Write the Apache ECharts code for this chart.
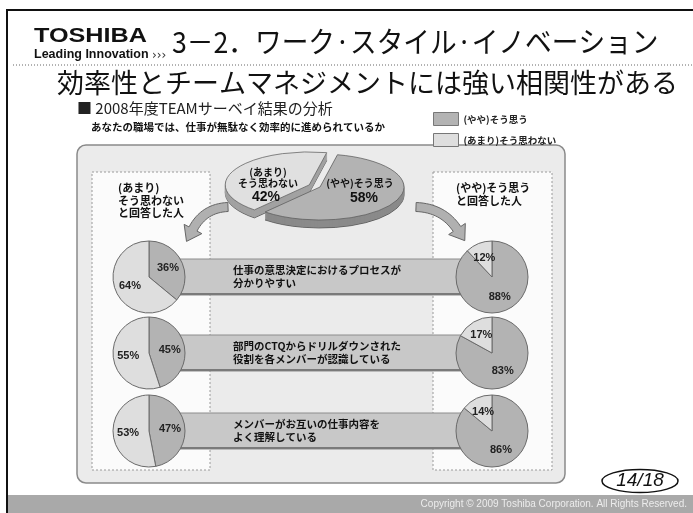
<!DOCTYPE html>
<html><head><meta charset="utf-8">
<script src="https://cdn.jsdelivr.net/npm/echarts@6/dist/echarts.min.js"></script>
<style>html,body{margin:0;padding:0;background:#fff}#c{width:693px;height:513px}</style>
</head><body><div id="c"></div>
<script>
// ---------- data ----------
const legendNames = ['(やや)そう思う', '(あまり)そう思わない'];
const categories = [
  '仕事の意思決定におけるプロセスが\n分かりやすい',
  '部門のCTQからドリルダウンされた\n役割を各メンバーが認識している',
  'メンバーがお互いの仕事内容を\nよく理解している'
];
const overallValues = [58, 42];          // agree, not agree
const leftAgree = [36, 45, 47];          // among "not agree" respondents
const leftDisagree = [64, 55, 53];
const rightAgree = [88, 83, 86];         // among "agree" respondents
const rightDisagree = [12, 17, 14];

// ---------- layout ----------
const JP = '"Noto Sans CJK JP", sans-serif';
const DARK = '#b3b3b3', LIGHT = '#dedede';
const rowY = [277, 353, 431];
const leftX = 149, rightX = 492, pieR = 36;
const BIG = {cx: 320, cy: 187, rx: 84, ry: 33, depth: 8, start: 12, explode: 12};
const BIG_TOP = ['#b3b3b3', '#e0e0e0'], BIG_SIDE = ['#8a8a8a', '#a2a2a2'];

function smallPie(cx, cy, a, d) {
  return {
    type: 'pie', center: [cx, cy], radius: [0, pieR], startAngle: 90, clockwise: true,
    silent: true, animation: false, emphasis: {disabled: true},
    label: {show: true, position: 'inside', formatter: '{c}%', fontSize: 11, fontWeight: 'bold',
            color: '#222', fontFamily: '"Liberation Sans", sans-serif'},
    labelLine: {show: false},
    itemStyle: {borderColor: '#6a6a6a', borderWidth: 1},
    data: [
      {name: legendNames[0], value: a, itemStyle: {color: DARK}},
      {name: legendNames[1], value: d, itemStyle: {color: LIGHT}}
    ]
  };
}

function arrowPoints(p0, c, p1, w, headW, headL) {
  const left = [], right = [];
  const N = 16;
  for (let i = 0; i <= N; i++) {
    const t = i / N;
    const x = (1-t)*(1-t)*p0[0] + 2*(1-t)*t*c[0] + t*t*p1[0];
    const y = (1-t)*(1-t)*p0[1] + 2*(1-t)*t*c[1] + t*t*p1[1];
    let dx = 2*(1-t)*(c[0]-p0[0]) + 2*t*(p1[0]-c[0]);
    let dy = 2*(1-t)*(c[1]-p0[1]) + 2*t*(p1[1]-c[1]);
    const L = Math.hypot(dx, dy); dx /= L; dy /= L;
    left.push([x - dy*w/2, y + dx*w/2]);
    right.push([x + dy*w/2, y - dx*w/2]);
  }
  let dx = p1[0]-c[0], dy = p1[1]-c[1]; const L = Math.hypot(dx, dy); dx /= L; dy /= L;
  const tip = [p1[0] + dx*headL, p1[1] + dy*headL];
  const hl = [p1[0] - dy*headW, p1[1] + dx*headW];
  const hr = [p1[0] + dy*headW, p1[1] - dx*headW];
  return left.concat([hl, tip, hr]).concat(right.reverse());
}

function txt(x, y, text, font, opts, extra) {
  return Object.assign({type: 'text', x: x, y: y, silent: true,
    style: Object.assign({text: text, font: font, fill: '#111', align: 'left', verticalAlign: 'middle'}, opts || {})}, extra || {});
}

const graphics = [];
// rounded panel
graphics.push({type: 'rect', shape: {x: 77, y: 145, width: 488, height: 338, r: 9},
  style: {fill: '#ebebeb', stroke: '#8a8a8a', lineWidth: 1.5}, silent: true});
graphics.push({type: 'rect', shape: {x: 92, y: 172, width: 118, height: 298},
  style: {fill: '#fbfbfb', stroke: '#9a9a9a', lineWidth: 1, lineDash: [2, 2]}, silent: true});
graphics.push({type: 'rect', shape: {x: 433, y: 172, width: 119, height: 298},
  style: {fill: '#fbfbfb', stroke: '#9a9a9a', lineWidth: 1, lineDash: [2, 2]}, silent: true});
// bars
categories.forEach((c, i) => {
  const y = rowY[i];
  graphics.push({type: 'rect', shape: {x: 172, y: y - 18, width: 296, height: 36},
    style: {fill: '#c8c8c8', stroke: '#8c8c8c', lineWidth: 1}, silent: true});
  graphics.push({type: 'line', shape: {x1: 172, y1: y + 17, x2: 468, y2: y + 17},
    style: {stroke: '#7a7a7a', lineWidth: 2}, silent: true});
  graphics.push(txt(233, y, c, 'bold 10.5px ' + JP, {lineHeight: 13}));
});
// side box texts
graphics.push(txt(118, 182, '(あまり)\nそう思わない\nと回答した人', 'bold 11px ' + JP, {lineHeight: 12.5, verticalAlign: 'top'}));
graphics.push(txt(456, 182, '(やや)そう思う\nと回答した人', 'bold 11px ' + JP, {lineHeight: 12.5, verticalAlign: 'top'}));
// arrows
graphics.push({type: 'polygon', shape: {points: arrowPoints([228, 207], [204, 208], [193, 229], 9, 10, 14)},
  style: {fill: '#b0b0b0', stroke: '#666', lineWidth: 1}, silent: true});
graphics.push({type: 'polygon', shape: {points: arrowPoints([416, 207], [443, 208], [457, 229], 9, 10, 14)},
  style: {fill: '#b0b0b0', stroke: '#666', lineWidth: 1}, silent: true});
// big pie labels (above the series)
graphics.push(txt(268, 178, '(あまり)\nそう思わない', 'bold 10px ' + JP, {align: 'center', lineHeight: 11}, {z: 100}));
graphics.push(txt(266, 197, overallValues[1] + '%', 'bold 14px "Liberation Sans", sans-serif', {align: 'center'}, {z: 100}));
graphics.push(txt(360, 183, legendNames[0], 'bold 10px ' + JP, {align: 'center'}, {z: 100}));
graphics.push(txt(364, 198, overallValues[0] + '%', 'bold 14px "Liberation Sans", sans-serif', {align: 'center'}, {z: 100}));
// footer / frame / header
graphics.push({type: 'rect', shape: {x: 8, y: 495, width: 690, height: 20}, style: {fill: '#a9a9a9'}, silent: true});
graphics.push(txt(687, 504, 'Copyright © 2009 Toshiba Corporation. All Rights Reserved.', '10px "Liberation Sans", sans-serif', {align: 'right', fill: '#ececec'}));
graphics.push({type: 'rect', shape: {x: 7, y: 10, width: 700, height: 520}, style: {fill: null, stroke: '#111', lineWidth: 2}, silent: true});
graphics.push(txt(34, 36, 'TOSHIBA', 'bold 21px "Liberation Sans", sans-serif', {}, {scaleX: 1.2}));
graphics.push(txt(34, 55, 'Leading Innovation', 'bold 12.5px "Liberation Sans", sans-serif', {}));
graphics.push(txt(152, 56, '›››', '12px "DejaVu Sans", sans-serif', {fill: '#333'}));
graphics.push(txt(172, 42, '3－2．ワーク·スタイル·イノベーション', '29px ' + JP, {}, {scaleX: 0.92}));
graphics.push({type: 'line', shape: {x1: 13, y1: 65, x2: 693, y2: 65}, style: {stroke: '#666', lineWidth: 1, lineDash: [1, 2]}, silent: true});
graphics.push(txt(57, 83, '効率性とチームマネジメントには強い相関性がある', '27px ' + JP, {}));
graphics.push(txt(77, 108, '■ 2008年度TEAMサーベイ結果の分析', '15px ' + JP, {fill: '#222'}));
graphics.push(txt(91, 127, 'あなたの職場では、仕事が無駄なく効率的に進められているか', 'bold 10.5px ' + JP, {}));
// page number
graphics.push({type: 'ellipse', shape: {cx: 640, cy: 481, rx: 38, ry: 11.5}, style: {fill: '#fff', stroke: '#111', lineWidth: 1.5}, silent: true});
graphics.push(txt(640, 481, '14/18', 'italic 19px "Liberation Sans", sans-serif', {align: 'center'}));

const series = [];
for (let i = 0; i < 3; i++) {
  series.push(smallPie(leftX, rowY[i], leftAgree[i], leftDisagree[i]));
  series.push(smallPie(rightX, rowY[i], rightAgree[i], rightDisagree[i]));
}
series.push({
  type: 'custom', name: 'overall', coordinateSystem: 'none', silent: true, animation: false,
  data: overallValues.map((v, i) => ({name: legendNames[i], value: [v]})),
  renderItem: function (params, api) {
    const i = params.dataIndex;
    const total = overallValues.reduce((s, v) => s + v, 0);
    const before = overallValues.slice(0, i).reduce((s, v) => s + v, 0);
    const a0 = BIG.start + before / total * 360;
    const a1 = a0 + api.value(0) / total * 360;
    const mid = (a0 + a1) / 2 * Math.PI / 180;
    const ex = i === 1 ? BIG.explode : 0;
    const k = BIG.ry / BIG.rx;
    const gx = BIG.cx + ex * Math.sin(mid);
    const gy = BIG.cy - ex * Math.cos(mid) * k;
    const sa = (a0 - 90) * Math.PI / 180, ea = (a1 - 90) * Math.PI / 180;
    const zb = i === 0 ? 20 : 0;
    const children = [];
    for (let t = BIG.depth; t >= 1; t--) {
      children.push({type: 'sector', z2: zb,
        shape: {cx: 0, cy: t / k, r: BIG.rx, r0: 0, startAngle: sa, endAngle: ea, clockwise: true},
        style: {fill: BIG_SIDE[i], stroke: t === BIG.depth ? '#444' : BIG_SIDE[i], lineWidth: 1}});
    }
    children.push({type: 'sector', z2: zb + 1,
      shape: {cx: 0, cy: 0, r: BIG.rx, r0: 0, startAngle: sa, endAngle: ea, clockwise: true},
      style: {fill: BIG_TOP[i], stroke: '#555', lineWidth: 1}});
    return {type: 'group', x: gx, y: gy, scaleY: k, children: children};
  }
});

const chart = echarts.init(document.getElementById('c'));
chart.setOption({
  animation: false,
  textStyle: {fontFamily: JP},
  legend: {
    data: legendNames, orient: 'vertical', left: 428, top: 107, itemWidth: 25, itemHeight: 13, itemGap: 7,
    icon: 'rect', selectedMode: false,
    itemStyle: {borderColor: '#777', borderWidth: 1},
    textStyle: {fontSize: 9.5, fontWeight: 'bold', color: '#222', fontFamily: JP}
  },
  graphic: {elements: graphics},
  series: series
});
</script>
</body></html>
